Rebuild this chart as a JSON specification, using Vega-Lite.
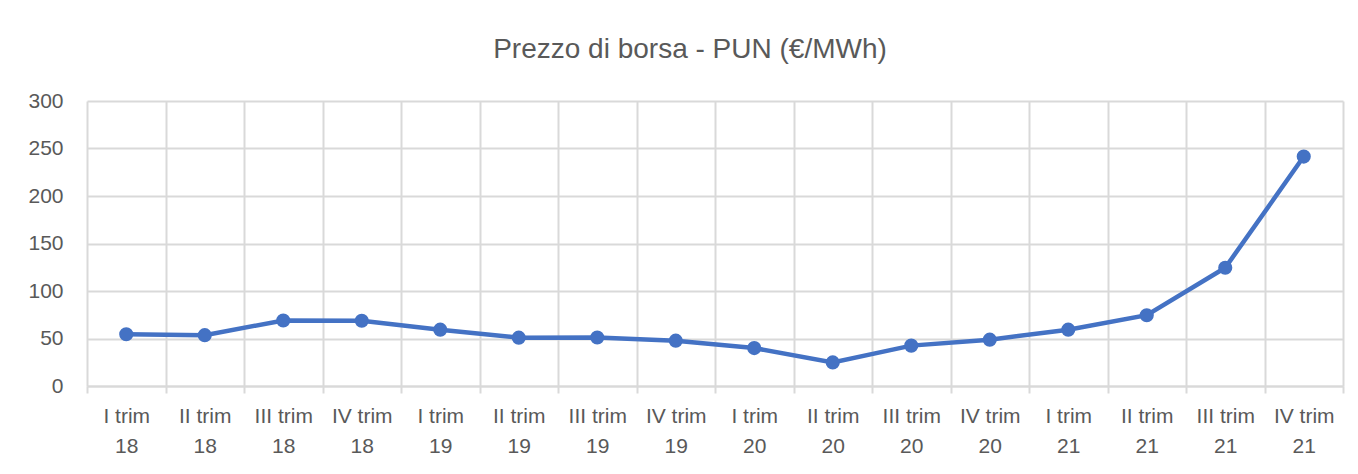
{
  "$schema": "https://vega.github.io/schema/vega-lite/v6.json",
  "width": 1256,
  "height": 285,
  "autosize": {"type": "none"},
  "padding": {"left": 87, "top": 101, "right": 15, "bottom": 88},
  "background": "white",
  "title": {
    "text": "Prezzo di borsa -  PUN (€/MWh)",
    "font": "Liberation Sans",
    "fontSize": 28,
    "fontWeight": "normal",
    "color": "#595959",
    "anchor": "middle",
    "dx": -25,
    "offset": 26
  },
  "data": {
    "values": [
      {"trimestre": "I trim\n18", "pun": 54.5},
      {"trimestre": "II trim\n18", "pun": 53.5},
      {"trimestre": "III trim\n18", "pun": 69.0},
      {"trimestre": "IV trim\n18", "pun": 68.7},
      {"trimestre": "I trim\n19", "pun": 59.3},
      {"trimestre": "II trim\n19", "pun": 50.9},
      {"trimestre": "III trim\n19", "pun": 51.0},
      {"trimestre": "IV trim\n19", "pun": 47.7},
      {"trimestre": "I trim\n20", "pun": 39.9},
      {"trimestre": "II trim\n20", "pun": 24.8},
      {"trimestre": "III trim\n20", "pun": 42.5},
      {"trimestre": "IV trim\n20", "pun": 48.8},
      {"trimestre": "I trim\n21", "pun": 59.3},
      {"trimestre": "II trim\n21", "pun": 74.5},
      {"trimestre": "III trim\n21", "pun": 124.5},
      {"trimestre": "IV trim\n21", "pun": 241.5}
    ]
  },
  "mark": {
    "type": "line",
    "color": "#4472C4",
    "strokeWidth": 4.5,
    "point": {"filled": true, "size": 200, "color": "#4472C4", "opacity": 1}
  },
  "encoding": {
    "x": {
      "field": "trimestre",
      "type": "nominal",
      "sort": null,
      "scale": {"paddingInner": 0, "paddingOuter": 0},
      "axis": {
        "title": null,
        "labelAngle": 0,
        "labelExpr": "split(datum.label, '\\n')",
        "labelFont": "Liberation Sans",
        "labelFontSize": 21,
        "labelColor": "#595959",
        "labelLineHeight": 30,
        "labelPadding": 12,
        "labelBaseline": "top",
        "tickBand": "extent",
        "tickColor": "#d9d9d9",
        "tickWidth": 2,
        "tickSize": 7,
        "grid": true,
        "gridColor": "#d9d9d9",
        "gridWidth": 2,
        "domainColor": "#d9d9d9",
        "domainWidth": 2
      }
    },
    "y": {
      "field": "pun",
      "type": "quantitative",
      "scale": {"domain": [0, 300], "nice": false},
      "axis": {
        "title": null,
        "values": [0, 50, 100, 150, 200, 250, 300],
        "labelFont": "Liberation Sans",
        "labelFontSize": 21,
        "labelColor": "#595959",
        "labelPadding": 24,
        "ticks": false,
        "domain": false,
        "grid": true,
        "gridColor": "#d9d9d9",
        "gridWidth": 2
      }
    }
  },
  "config": {
    "view": {"stroke": null}
  }
}
